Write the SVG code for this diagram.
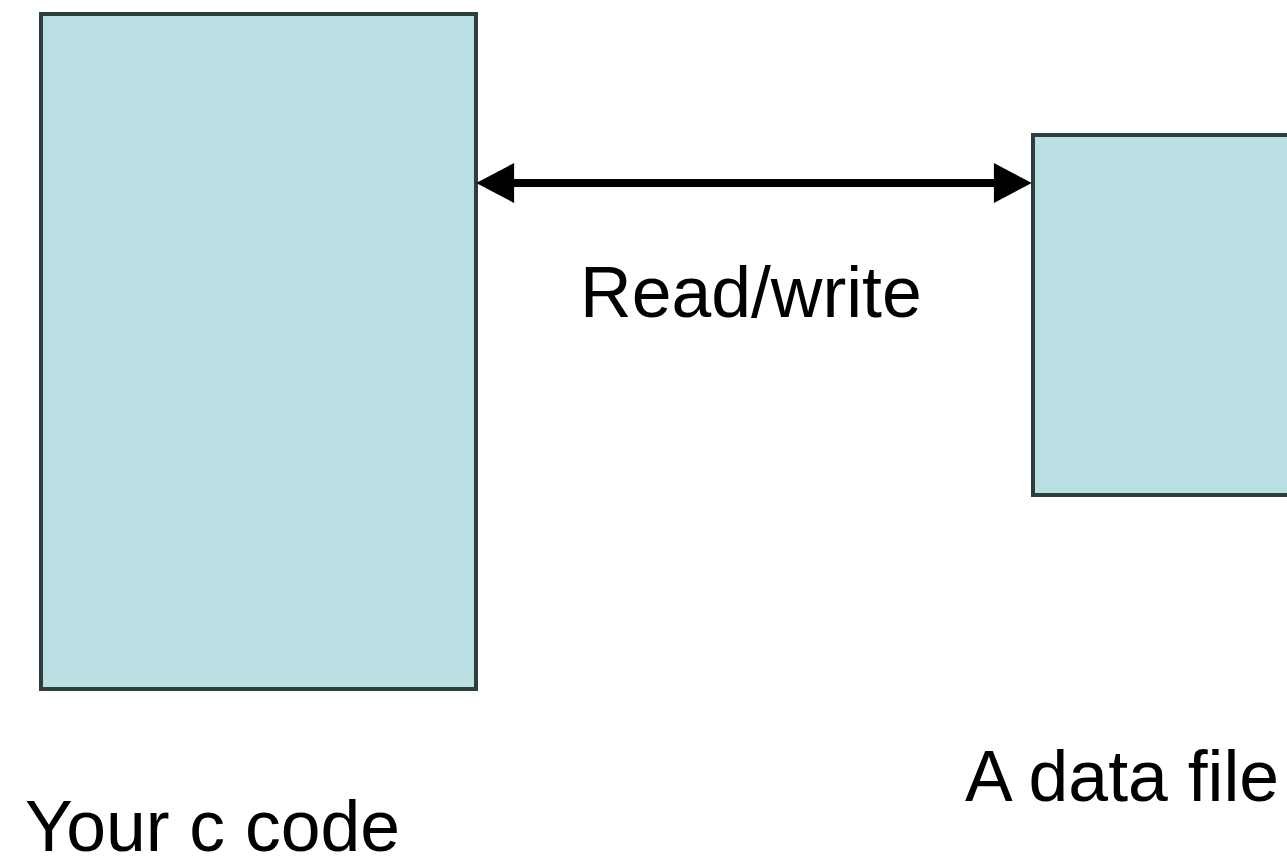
<svg xmlns="http://www.w3.org/2000/svg" width="1287" height="857" viewBox="0 0 1287 857">
<style>
.box{fill:#bbe0e3;stroke:#2e3d3d;stroke-width:4}
.lbl{font-family:"Liberation Sans",Arial,sans-serif;font-size:71.5px;fill:#000}
.conn{stroke:#000;stroke-width:8;fill:none}
</style>
<defs>
<marker id="ah" markerUnits="userSpaceOnUse" markerWidth="40" markerHeight="40" viewBox="0 0 36 38" refX="2" refY="19" orient="auto-start-reverse">
<polygon points="0,0 36,19 0,38" fill="#000"/>
</marker>
</defs>
<rect width="1287" height="857" fill="#fff"/>
<g id="node-code">
<rect class="box" x="41" y="14" width="435" height="675"/>
<text class="lbl" x="25" y="851">Your c code</text>
</g>
<g id="node-file">
<rect class="box" x="1033" y="135" width="270" height="360"/>
<text class="lbl" x="965" y="801">A data file</text>
</g>
<g id="connectors">
<line class="conn" x1="512" y1="183" x2="996" y2="183" marker-start="url(#ah)" marker-end="url(#ah)"/>
<text class="lbl" x="580" y="317">Read/write</text>
</g>
</svg>
